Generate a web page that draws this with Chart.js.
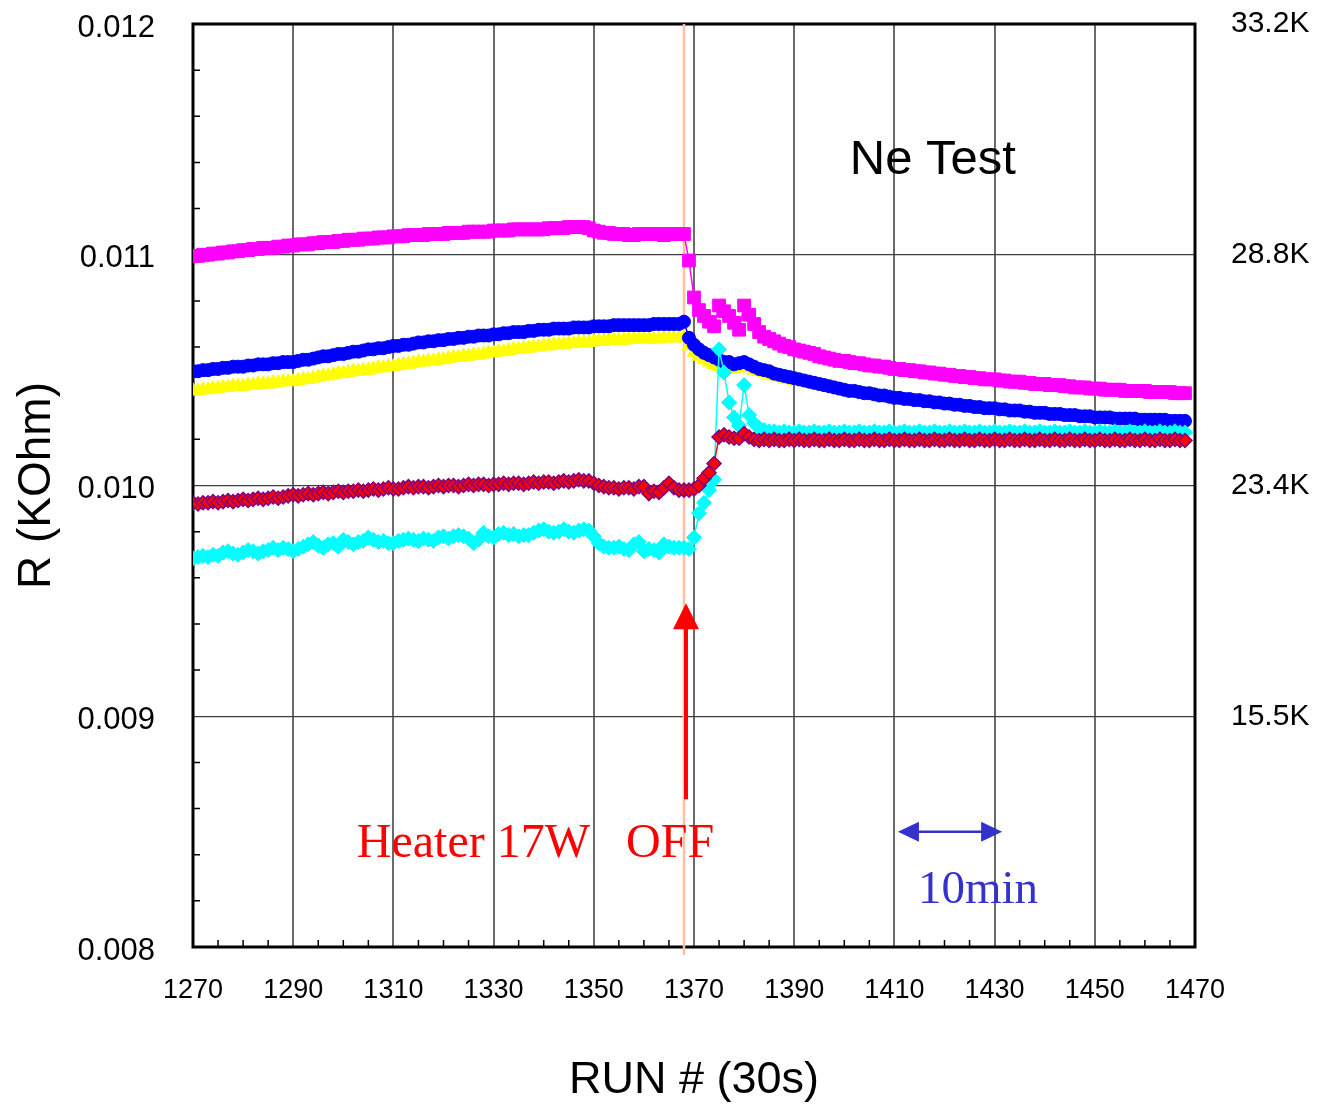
<!DOCTYPE html>
<html>
<head>
<meta charset="utf-8">
<script src="https://cdn.jsdelivr.net/npm/chart.js@4.4.0/dist/chart.umd.min.js"></script>
<style>
  body { margin: 0; background: #fff; }
</style>
</head>
<body>
<canvas id="myChart" width="1317" height="1105"></canvas>
<script>
// one reading per run, starting at firstRun; resistances in mOhm (1e-6 kOhm)
let firstRun = 1270;

let magentaR = [
  10995,10995,11000,11000,11005,11005,11010,11010,11015,11015,
  11020,11020,11025,11025,11030,11030,11030,11035,11035,11040,
  11040,11045,11045,11045,11050,11050,11055,11055,11055,11060,
  11060,11065,11065,11065,11070,11070,11070,11075,11075,11075,
  11080,11080,11080,11085,11085,11085,11085,11090,11090,11090,
  11090,11095,11095,11095,11095,11100,11100,11100,11100,11100,
  11105,11105,11105,11105,11110,11110,11110,11110,11110,11110,
  11110,11115,11115,11115,11115,11120,11120,11120,11120,11115,
  11105,11100,11095,11095,11090,11090,11090,11085,11085,11090,
  11090,11090,11090,11090,11085,11090,11090,11090,11090,
  10975,10815,10760,10735,10710,10690,10780,10755,10735,10705,
  10675,10780,10740,10700,10665,10645,10635,10625,10615,10605,
  10600,10590,
  10585,10580,10575,10570,10560,10555,10550,10545,10540,10540,
  10535,10530,10530,10525,10520,10520,10515,10515,10510,10505,
  10505,10500,10500,10495,10495,10490,10490,10485,10485,10480,
  10480,10475,10475,10470,10470,10465,10465,10460,10460,10460,
  10455,10455,10450,10450,10450,10445,10445,10440,10440,10440,
  10435,10435,10435,10430,10430,10425,10425,10425,10420,10420,
  10420,10415,10415,10415,10415,10410,10410,10410,10410,10410,
  10405,10405,10405,10405,10405,10400,10400,10400
];

let blueR = [
  10495,10495,10500,10500,10505,10505,10510,10510,10515,10515,
  10515,10520,10520,10525,10525,10525,10530,10530,10535,10535,
  10535,10540,10545,10545,10550,10555,10560,10560,10565,10570,
  10570,10575,10580,10580,10585,10590,10590,10595,10595,10600,
  10605,10605,10610,10610,10615,10620,10620,10625,10625,10630,
  10630,10635,10635,10640,10640,10645,10645,10650,10650,10650,
  10655,10655,10660,10660,10665,10665,10665,10670,10670,10675,
  10675,10675,10680,10680,10680,10680,10685,10685,10685,10685,
  10690,10690,10690,10690,10695,10695,10695,10695,10695,10695,
  10695,10695,10700,10700,10700,10700,10700,10700,10710,
  10640,10610,10590,10575,10565,10555,10545,10535,10535,10525,
  10530,10535,10525,10515,10505,10500,10495,10485,10480,10475,
  10470,10465,
  10460,10455,10450,10445,10440,10435,10430,10425,10420,10415,
  10410,10410,10405,10400,10400,10395,10390,10390,10385,10380,
  10380,10375,10375,10370,10370,10365,10365,10360,10360,10355,
  10355,10350,10350,10345,10345,10340,10340,10335,10335,10335,
  10330,10330,10325,10325,10325,10320,10320,10315,10315,10315,
  10310,10310,10310,10305,10305,10305,10300,10300,10300,10295,
  10295,10295,10295,10290,10290,10290,10290,10290,10285,10285,
  10285,10285,10285,10285,10280,10280,10280,10280
];

let yellowR = [
  10410,10410,10415,10415,10420,10420,10425,10425,10430,10430,
  10430,10435,10435,10440,10440,10440,10445,10445,10450,10450,
  10450,10455,10460,10460,10465,10470,10475,10475,10480,10485,
  10485,10490,10495,10495,10500,10500,10505,10510,10510,10515,
  10515,10520,10525,10525,10530,10535,10535,10540,10540,10545,
  10545,10550,10555,10555,10560,10560,10565,10565,10570,10575,
  10575,10580,10580,10585,10590,10590,10595,10595,10600,10600,
  10605,10605,10610,10610,10610,10615,10615,10620,10620,10620,
  10625,10625,10625,10630,10630,10630,10630,10635,10635,10635,
  10635,10635,10635,10635,10640,10640,10640,10640,10640,
  10605,10575,10560,10545,10535,10525,10515,10515,10510,10505,
  10510,10520,10510,10500,10495,10490,10480,10475,10470,10465,
  10460,10455,
  10455,10450,10445,10440,10435,10430,10425,10420,10415,10410,
  10405,10405,10400,10395,10395,10390,10385,10385,10380,10375,
  10375,10370,10370,10365,10365,10360,10360,10355,10355,10350,
  10350,10345,10345,10340,10340,10335,10335,10330,10330,10330,
  10325,10325,10320,10320,10320,10315,10315,10310,10310,10310,
  10305,10305,10305,10300,10300,10300,10295,10295,10295,10290,
  10290,10290,10290,10285,10285,10285,10285,10285,10280,10280,
  10280,10280,10280,10280,10275,10275,10275,10275
];

let redR = [
  9925,9920,9925,9925,9930,9925,9930,9935,9930,9935,
  9940,9935,9940,9945,9940,9945,9950,9945,9950,9955,
  9960,9955,9960,9965,9960,9965,9970,9965,9970,9975,
  9970,9975,9975,9980,9975,9980,9985,9980,9985,9990,
  9985,9985,9990,9995,9990,9995,9995,9990,9995,10000,
  9995,10000,10000,9995,10000,10005,10000,10005,10005,10000,
  10005,10005,10010,10005,10010,10010,10005,10010,10015,10010,
  10015,10015,10010,10015,10020,10015,10020,10025,10020,10020,
  10010,10000,9995,9990,9990,9985,9990,9990,9985,9995,
  9995,9965,9975,9970,9990,10010,9990,9980,9980,
  9980,9985,10000,10030,10055,10095,10210,10220,10210,10205,
  10205,10225,10210,10200,
  10195,10200,10195,10200,10195,10195,10200,10195,10200,10195,
  10195,10200,10195,10195,10200,10195,10195,10200,10195,10195,
  10200,10195,10195,10200,10195,10195,10200,10195,10195,10200,
  10195,10195,10200,10195,10195,10200,10195,10195,10200,10195,
  10195,10200,10195,10195,10200,10195,10195,10200,10195,10195,
  10200,10195,10195,10200,10195,10195,10200,10195,10195,10200,
  10195,10195,10200,10195,10195,10200,10195,10195,10200,10195,
  10195,10200,10195,10195,10200,10195,10195,10200,10195,10195,
  10200,10195,10195,10200,10195,10195
];

let cyanR = [
  9685,9690,9695,9690,9700,9695,9710,9715,9705,9700,
  9710,9720,9715,9705,9715,9720,9730,9720,9730,9725,
  9715,9725,9735,9745,9755,9740,9730,9745,9750,9735,
  9765,9755,9745,9755,9760,9775,9765,9755,9760,9750,
  9750,9760,9765,9770,9765,9760,9770,9765,9760,9775,
  9780,9770,9780,9785,9780,9770,9750,9765,9795,9780,
  9775,9790,9795,9785,9790,9780,9785,9785,9795,9805,
  9810,9800,9795,9800,9810,9800,9795,9805,9810,9805,
  9780,9750,9735,9730,9730,9735,9725,9720,9745,9755,
  9715,9725,9720,9710,9745,9735,9730,9730,9730,
  9725,9775,9880,9925,9980,10025,10590,10490,10360,10295,
  10260,10435,10305,10270,10250,10240,10235,
  10235,10230,10235,10230,10230,10235,10230,10230,10235,10230,
  10230,10235,10230,10230,10235,10230,10230,10235,10230,10230,
  10235,10230,10230,10235,10230,10230,10235,10230,10230,10235,
  10230,10230,10235,10230,10230,10235,10230,10230,10235,10230,
  10230,10235,10230,10230,10235,10230,10230,10235,10230,10230,
  10235,10230,10230,10235,10230,10230,10235,10230,10230,10235,
  10230,10230,10235,10230,10230,10235,10230,10230,10235,10230,
  10230,10235,10230,10230,10235,10230,10230,10235,10230,10230,
  10235,10230,10230
];

// left axis values (kOhm) and the matching right-hand labels
let leftTicks = [0.008, 0.009, 0.010, 0.011, 0.012];
let rightTickLabels = ['', '15.5K', '23.4K', '28.8K', '33.2K'];

// annotation positions, in run / kOhm units
let heaterOffRun = 1368;
let arrowRun = 1368.4, arrowTop = 0.00949, arrowBottom = 0.00864;
let heaterText = 'Heater 17W   OFF', heaterTextAt = [1302.7, 0.00839];
let neText = 'Ne Test', neTextAt = [1401.1, 0.01135];
let spanStart = 1410.7, spanEnd = 1431.5, spanLevel = 0.0085;
let spanText = '10min', spanTextAt = [1414.7, 0.00819];

let sans = "'Liberation Sans', Arial, sans-serif";
let serif = "'Liberation Serif', 'Times New Roman', serif";
Chart.defaults.font.family = sans;
Chart.defaults.color = '#000';

function toPoints(arr) {
  return arr.map((v, i) => ({ x: firstRun + i, y: v / 1e6 }));
}

function arrowHead(ctx, x, y, dx, dy, len, half) {
  // tip at (x, y), pointing along (dx, dy)
  let bx = x - dx * len, by = y - dy * len;
  ctx.beginPath();
  ctx.moveTo(x, y);
  ctx.lineTo(bx - dy * half, by + dx * half);
  ctx.lineTo(bx + dy * half, by - dx * half);
  ctx.closePath();
  ctx.fill();
}

// keep the vertical axes from reserving extra room for their end labels
function fixVertical(width) {
  return s => {
    s.width = width;
    s.paddingTop = 0;
    s.paddingBottom = 0;
  };
}

const decorations = {
  id: 'decorations',
  beforeDatasetsDraw(chart) {
    let ctx = chart.ctx, a = chart.chartArea;
    let xs = chart.scales.x, ys = chart.scales.y;
    ctx.save();
    // minor ticks, pointing into the plot
    ctx.strokeStyle = '#000';
    ctx.lineWidth = 1.5;
    ctx.beginPath();
    for (let i = 0; i <= 40; i++) {
      let v = xs.min + i * 5;
      if (i % 4 === 0) continue;
      let px = xs.getPixelForValue(v);
      ctx.moveTo(px, a.bottom);
      ctx.lineTo(px, a.bottom - 7);
    }
    for (let i = 0; i <= 20; i++) {
      if (i % 5 === 0) continue;
      let py = ys.getPixelForValue(ys.min + i * 0.0002);
      ctx.moveTo(a.left, py);
      ctx.lineTo(a.left + 7, py);
    }
    ctx.stroke();
    // plot frame
    ctx.lineWidth = 3;
    ctx.strokeRect(a.left, a.top, a.right - a.left, a.bottom - a.top);
    // heater-off marker line
    let hx = xs.getPixelForValue(heaterOffRun);
    ctx.strokeStyle = '#ffc0a0';
    ctx.lineWidth = 2.5;
    ctx.beginPath();
    ctx.moveTo(hx, a.top);
    ctx.lineTo(hx, a.bottom + 8);
    ctx.stroke();
    ctx.restore();
  },
  afterDatasetsDraw(chart) {
    let ctx = chart.ctx;
    let xs = chart.scales.x, ys = chart.scales.y;
    ctx.save();
    // red arrow up to the heater-off point
    let ax = xs.getPixelForValue(arrowRun);
    let top = ys.getPixelForValue(arrowTop), bottom = ys.getPixelForValue(arrowBottom);
    ctx.fillStyle = '#ff0000';
    ctx.strokeStyle = '#ff0000';
    ctx.lineWidth = 4;
    ctx.beginPath();
    ctx.moveTo(ax, bottom);
    ctx.lineTo(ax, top + 20);
    ctx.stroke();
    arrowHead(ctx, ax, top, 0, -1, 26, 13);

    ctx.textBaseline = 'alphabetic';
    ctx.textAlign = 'left';
    ctx.font = '48px ' + serif;
    ctx.fillText(heaterText, xs.getPixelForValue(heaterTextAt[0]), ys.getPixelForValue(heaterTextAt[1]));

    ctx.fillStyle = '#000';
    ctx.font = '49px ' + sans;
    ctx.fillText(neText, xs.getPixelForValue(neTextAt[0]), ys.getPixelForValue(neTextAt[1]));

    // 10 minute span
    let sx0 = xs.getPixelForValue(spanStart), sx1 = xs.getPixelForValue(spanEnd);
    let sy = ys.getPixelForValue(spanLevel);
    ctx.strokeStyle = '#3333cc';
    ctx.fillStyle = '#3333cc';
    ctx.lineWidth = 2.5;
    ctx.beginPath();
    ctx.moveTo(sx0 + 10, sy);
    ctx.lineTo(sx1 - 10, sy);
    ctx.stroke();
    arrowHead(ctx, sx0, sy, -1, 0, 21, 10);
    arrowHead(ctx, sx1, sy, 1, 0, 21, 10);
    ctx.font = '47px ' + serif;
    ctx.fillText(spanText, xs.getPixelForValue(spanTextAt[0]), ys.getPixelForValue(spanTextAt[1]));
    ctx.restore();
  }
};

function series(data, color, style, radius, order, extra) {
  return Object.assign({
    data: toPoints(data),
    borderColor: color,
    backgroundColor: color,
    borderWidth: 1.5,
    pointStyle: style,
    pointRadius: radius,
    pointBackgroundColor: color,
    pointBorderColor: color,
    pointBorderWidth: 1,
    tension: 0,
    order: order
  }, extra || {});
}

new Chart('myChart', {
  type: 'line',
  data: {
    datasets: [
      series(magentaR, '#ff00ff', 'rect', 9, 1),
      series(blueR, '#0000ff', 'circle', 6.5, 4),
      series(yellowR, '#ffff00', 'triangle', 8, 5),
      series(redR, '#ff0000', 'rectRot', 7, 2, { pointBorderColor: '#800080', pointBorderWidth: 1.5 }),
      series(cyanR, '#00ffff', 'rectRot', 7.5, 3)
    ]
  },
  options: {
    responsive: false,
    animation: false,
    devicePixelRatio: 1,
    layout: { padding: { top: 24, left: 0, right: 0, bottom: 0 } },
    plugins: {
      legend: { display: false },
      tooltip: { enabled: false }
    },
    scales: {
      x: {
        type: 'linear',
        min: 1270,
        max: 1470,
        ticks: {
          stepSize: 20,
          padding: 27,
          maxRotation: 0,
          font: { size: 27 },
          callback: v => String(v)
        },
        grid: { color: '#6a6a6a', lineWidth: 2, drawTicks: false },
        border: { display: false },
        title: {
          display: true,
          text: 'RUN # (30s)',
          font: { size: 45, lineHeight: 1.1 },
          padding: { top: 0, bottom: 0 }
        },
        afterFit: s => { s.height = 158; s.paddingLeft = 0; s.paddingRight = 0; }
      },
      y: {
        position: 'left',
        min: 0.008,
        max: 0.012,
        ticks: {
          stepSize: 0.001,
          padding: 38,
          labelOffset: 4,
          font: { size: 31 },
          callback: v => v.toFixed(3)
        },
        grid: { color: '#404040', lineWidth: 1.2, drawTicks: false },
        border: { display: false },
        title: {
          display: true,
          text: 'R (KOhm)',
          font: { size: 46, lineHeight: 1.2 },
          padding: { top: 10, bottom: 0 }
        },
        afterFit: fixVertical(193)
      },
      y2: {
        position: 'right',
        min: 0.008,
        max: 0.012,
        ticks: {
          stepSize: 0.001,
          padding: 36,
          font: { size: 30 },
          callback: v => {
            let i = leftTicks.findIndex(t => Math.abs(t - v) < 1e-9);
            return i >= 0 ? rightTickLabels[i] : '';
          }
        },
        grid: { display: false, drawTicks: false },
        border: { display: false },
        afterFit: fixVertical(122)
      }
    }
  },
  plugins: [decorations]
});
</script>
</body>
</html>
